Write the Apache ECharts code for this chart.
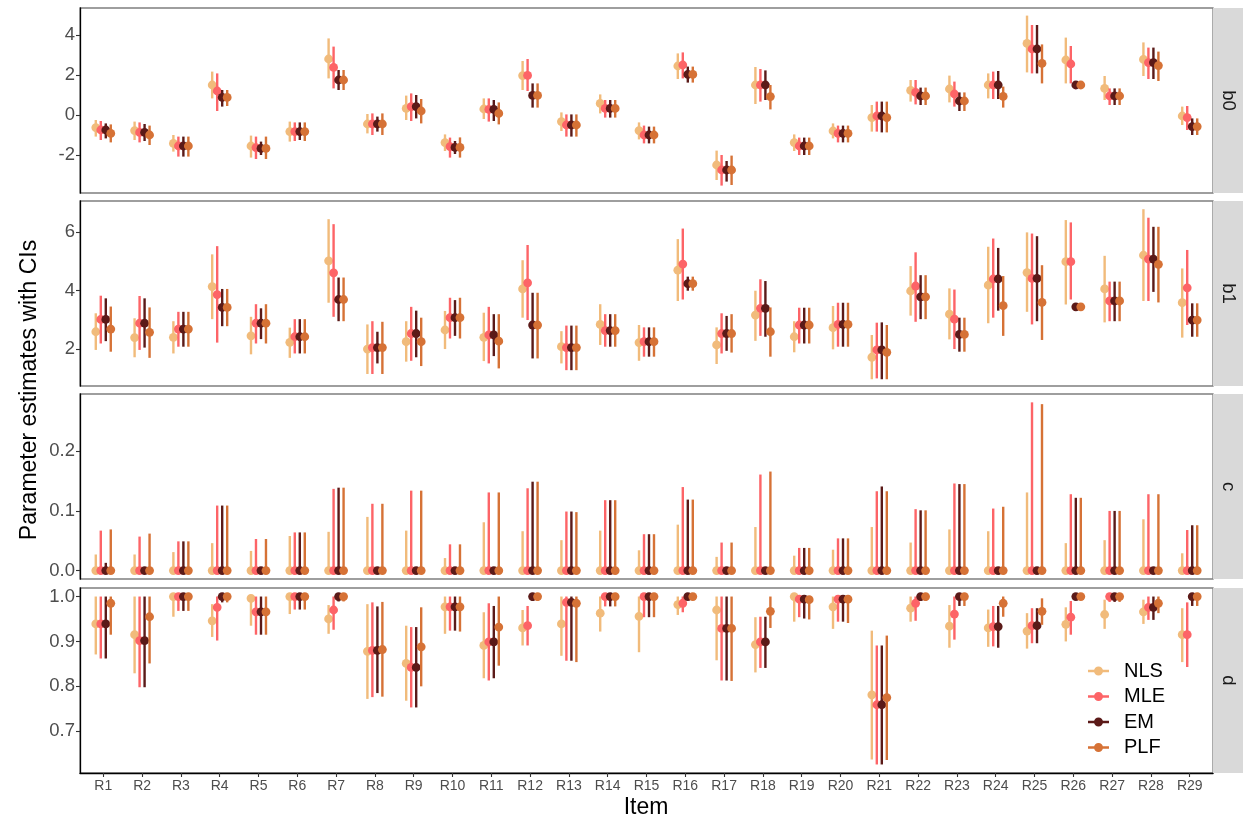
<!DOCTYPE html>
<html><head><meta charset="utf-8">
<script src="https://cdn.jsdelivr.net/npm/echarts@6/dist/echarts.min.js"></script>
<style>html,body{margin:0;padding:0;background:#fff}#c{width:1243px;height:822px}</style>
</head><body><div id="c"></div>
<script>
// ---------- categories / labels ----------
const items = Array.from({length: 29}, (_, i) => 'R' + (i + 1));
const methods = ['NLS', 'MLE', 'EM', 'PLF'];
const params = ['b0', 'b1', 'c', 'd'];
const yTicks_b0 = [-2, 0, 2, 4];
const yTicks_b1 = [2, 4, 6];
const yTicks_c = [0, 0.1, 0.2];
const yTicks_d = [0.7, 0.8, 0.9, 1.0];

// ---------- data: [estimate, lower, upper] per item ----------
const b0_NLS = [[-0.63,-1.08,-0.25],[-0.78,-1.25,-0.33],[-1.42,-1.83,-1.0],[1.5,0.83,2.17],[-1.55,-2.13,-1.03],[-0.83,-1.33,-0.33],[2.8,1.83,3.83],[-0.45,-0.92,0.05],[0.33,-0.25,0.97],[-1.38,-1.8,-0.97],[0.3,-0.2,0.83],[1.97,1.25,2.7],[-0.33,-0.8,0.13],[0.58,0.08,1.03],[-0.78,-1.22,-0.37],[2.45,1.8,3.08],[-2.5,-3.25,-1.78],[1.5,0.55,2.4],[-1.38,-1.8,-0.97],[-0.8,-1.17,-0.42],[-0.13,-0.83,0.5],[1.23,0.67,1.75],[1.3,0.63,1.97],[1.5,0.83,2.08],[3.58,2.13,4.97],[2.75,1.58,3.87],[1.33,0.75,1.95],[2.78,1.95,3.63],[-0.05,-0.5,0.42]];
const b0_MLE = [[-0.75,-1.25,-0.3],[-0.87,-1.37,-0.37],[-1.55,-2.08,-1.08],[1.2,0.2,2.08],[-1.63,-2.2,-1.08],[-0.83,-1.3,-0.37],[2.38,1.33,3.42],[-0.45,-1.0,0.08],[0.42,-0.3,1.08],[-1.58,-2.13,-1.13],[0.28,-0.33,0.83],[1.98,1.2,2.8],[-0.5,-1.08,0.03],[0.33,-0.13,0.75],[-1.0,-1.42,-0.53],[2.5,1.83,3.13],[-2.75,-3.53,-2.0],[1.5,0.67,2.3],[-1.55,-2.0,-1.13],[-0.92,-1.37,-0.53],[-0.05,-0.83,0.67],[1.13,0.53,1.75],[1.05,0.42,1.67],[1.5,0.8,2.17],[3.3,2.08,4.5],[2.55,1.58,3.45],[0.95,0.5,1.33],[2.62,1.8,3.37],[-0.13,-0.75,0.45]];
const b0_EM = [[-0.75,-1.17,-0.42],[-0.87,-1.3,-0.45],[-1.55,-2.08,-1.08],[0.88,0.42,1.25],[-1.67,-2.0,-1.33],[-0.83,-1.25,-0.37],[1.75,1.25,2.25],[-0.45,-0.83,-0.08],[0.42,-0.17,1.0],[-1.62,-1.95,-1.3],[0.28,-0.3,0.75],[0.98,0.37,1.58],[-0.5,-1.08,0.03],[0.33,-0.13,0.75],[-1.0,-1.42,-0.58],[2.03,1.62,2.42],[-2.75,-3.33,-2.3],[1.5,0.75,2.23],[-1.55,-2.0,-1.13],[-0.92,-1.37,-0.53],[-0.05,-0.87,0.67],[0.95,0.5,1.37],[0.7,0.2,1.13],[1.5,0.8,2.2],[3.3,2.08,4.5],[1.5,1.45,1.55],[0.95,0.5,1.33],[2.62,1.8,3.37],[-0.58,-1.0,-0.17]];
const b0_PLF = [[-0.92,-1.37,-0.47],[-1.0,-1.5,-0.53],[-1.55,-2.08,-1.08],[0.88,0.45,1.25],[-1.67,-2.2,-1.08],[-0.83,-1.3,-0.37],[1.75,1.25,2.25],[-0.45,-1.0,0.08],[0.2,-0.42,0.8],[-1.62,-2.13,-1.12],[0.08,-0.47,0.63],[0.98,0.37,1.58],[-0.5,-1.08,0.03],[0.33,-0.13,0.75],[-1.0,-1.42,-0.58],[2.03,1.62,2.42],[-2.75,-3.5,-2.03],[0.92,0.28,1.5],[-1.55,-2.0,-1.13],[-0.92,-1.37,-0.53],[-0.13,-0.87,0.67],[0.95,0.5,1.37],[0.7,0.2,1.13],[0.93,0.37,1.42],[2.58,1.58,3.53],[1.5,1.45,1.55],[0.95,0.5,1.33],[2.47,1.7,3.17],[-0.58,-1.0,-0.17]];

const b1_NLS = [[2.59,1.97,3.22],[2.39,1.72,3.05],[2.4,1.85,2.95],[4.13,3.02,5.23],[2.45,1.82,3.1],[2.23,1.7,2.73],[5.01,3.58,6.43],[2.0,1.15,2.84],[2.25,1.57,2.95],[2.65,2.0,3.3],[2.4,1.59,3.24],[4.05,3.07,5.03],[2.08,1.51,2.61],[2.84,2.14,3.53],[2.22,1.6,2.82],[4.69,3.64,5.75],[2.14,1.49,2.74],[3.16,2.28,3.99],[2.42,1.89,2.95],[2.73,1.99,3.47],[1.72,0.97,2.48],[3.98,3.14,4.83],[3.19,2.33,4.07],[4.18,2.88,5.49],[4.61,3.27,5.98],[4.98,3.52,6.4],[4.05,2.91,5.18],[5.2,3.64,6.77],[3.58,2.39,4.75]];
const b1_MLE = [[3.01,2.19,3.82],[2.88,1.97,3.81],[2.68,2.08,3.27],[3.86,2.22,5.51],[2.88,2.19,3.53],[2.42,1.85,3.02],[4.6,3.1,6.26],[2.05,1.15,2.95],[2.53,1.6,3.44],[3.07,2.36,3.75],[2.48,1.51,3.44],[4.26,2.99,5.55],[2.05,1.28,2.8],[2.63,2.08,3.19],[2.25,1.74,2.74],[4.9,3.69,6.11],[2.53,1.85,3.22],[3.39,2.45,4.38],[2.82,2.19,3.41],[2.84,2.08,3.58],[1.97,1.0,2.9],[4.15,2.93,5.3],[3.02,2.0,4.03],[4.39,3.07,5.77],[4.41,2.84,5.94],[4.98,3.69,6.32],[3.64,2.95,4.3],[5.07,3.64,6.48],[4.09,2.82,5.38]];
const b1_EM = [[3.01,2.27,3.73],[2.88,2.05,3.73],[2.68,2.08,3.27],[3.42,2.78,4.05],[2.88,2.34,3.39],[2.42,1.85,3.02],[3.69,2.95,4.44],[2.05,1.51,2.59],[2.53,1.72,3.31],[3.07,2.45,3.67],[2.48,1.76,3.19],[2.82,1.68,3.92],[2.05,1.28,2.8],[2.63,2.08,3.19],[2.25,1.74,2.74],[4.23,3.99,4.47],[2.53,1.94,3.13],[3.39,2.42,4.32],[2.82,2.19,3.41],[2.84,2.08,3.58],[1.97,0.97,2.91],[3.78,3.02,4.52],[2.5,1.91,3.07],[4.39,3.31,5.45],[4.41,2.95,5.85],[3.44,3.4,3.48],[3.64,2.95,4.3],[5.07,3.95,6.17],[2.99,2.42,3.56]];
const b1_PLF = [[2.68,1.91,3.45],[2.57,1.7,3.42],[2.68,2.08,3.27],[3.42,2.78,4.05],[2.88,2.19,3.53],[2.42,1.85,3.02],[3.69,2.95,4.44],[2.05,1.15,2.93],[2.25,1.42,3.07],[3.07,2.36,3.75],[2.27,1.34,3.19],[2.82,1.68,3.92],[2.05,1.28,2.8],[2.63,2.08,3.19],[2.25,1.74,2.74],[4.23,3.99,4.47],[2.53,1.88,3.19],[2.59,1.74,3.42],[2.82,2.19,3.41],[2.84,2.08,3.58],[1.89,0.97,2.82],[3.78,3.02,4.52],[2.5,1.91,3.07],[3.48,2.45,4.49],[3.59,2.31,4.86],[3.44,3.4,3.48],[3.64,2.95,4.3],[4.89,3.59,6.17],[2.99,2.42,3.56]];

const c_NLS = [[0,0,0.027],[0,0,0.027],[0,0,0.031],[0,0,0.046],[0,0,0.033],[0,0,0.058],[0,0,0.065],[0,0,0.09],[0,0,0.067],[0,0,0.021],[0,0,0.081],[0,0,0.066],[0,0,0.051],[0,0,0.067],[0,0,0.034],[0,0,0.077],[0,0,0.023],[0,0,0.073],[0,0,0.025],[0,0,0.035],[0,0,0.073],[0,0,0.047],[0,0,0.069],[0,0,0.066],[0,0,0.131],[0,0,0.046],[0,0,0.051],[0,0,0.086],[0,0,0.029]];
const c_MLE = [[0,0,0.067],[0,0,0.057],[0,0,0.049],[0,0,0.109],[0,0,0.053],[0,0,0.064],[0,0,0.137],[0,0,0.112],[0,0,0.134],[0,0,0.044],[0,0,0.131],[0,0,0.138],[0,0,0.099],[0,0,0.118],[0,0,0.061],[0,0,0.14],[0,0,0.047],[0,0,0.161],[0,0,0.038],[0,0,0.054],[0,0,0.133],[0,0,0.103],[0,0,0.146],[0,0,0.104],[0,0,0.282],[0,0,0.128],[0,0,0.1],[0,0,0.128],[0,0,0.068]];
const c_EM = [[0,0,0.013],[0,0,0.001],[0,0,0.049],[0,0,0.109],[0,0,0.001],[0,0,0.064],[0,0,0.139],[0,0,0.001],[0,0,0.001],[0,0,0.001],[0,0,0.001],[0,0,0.149],[0,0,0.099],[0,0,0.118],[0,0,0.061],[0,0,0.119],[0,0,0.001],[0,0,0.001],[0,0,0.038],[0,0,0.054],[0,0,0.141],[0,0,0.101],[0,0,0.145],[0,0,0.001],[0,0,0.001],[0,0,0.122],[0,0,0.1],[0,0,0.001],[0,0,0.076]];
const c_PLF = [[0,0,0.069],[0,0,0.062],[0,0,0.049],[0,0,0.109],[0,0,0.053],[0,0,0.064],[0,0,0.139],[0,0,0.112],[0,0,0.134],[0,0,0.044],[0,0,0.131],[0,0,0.149],[0,0,0.098],[0,0,0.118],[0,0,0.061],[0,0,0.119],[0,0,0.047],[0,0,0.166],[0,0,0.038],[0,0,0.054],[0,0,0.133],[0,0,0.101],[0,0,0.145],[0,0,0.107],[0,0,0.279],[0,0,0.122],[0,0,0.1],[0,0,0.128],[0,0,0.076]];

const d_NLS = [[0.939,0.871,1.0],[0.915,0.829,1.0],[1.0,0.955,1.0],[0.946,0.91,0.983],[0.996,0.935,1.0],[1.0,0.961,1.0],[0.95,0.917,0.981],[0.878,0.772,0.983],[0.851,0.768,0.935],[0.977,0.917,1.0],[0.891,0.818,0.965],[0.93,0.891,0.97],[0.939,0.868,1.0],[0.963,0.922,1.0],[0.956,0.876,1.0],[0.982,0.959,1.0],[0.97,0.858,1.0],[0.893,0.831,0.954],[1.0,0.944,1.0],[0.977,0.928,1.0],[0.781,0.637,0.924],[0.974,0.944,1.0],[0.934,0.886,0.981],[0.93,0.888,0.971],[0.923,0.884,0.963],[0.938,0.9,0.976],[0.96,0.928,0.993],[0.966,0.939,0.993],[0.915,0.854,0.974]];
const d_MLE = [[0.939,0.862,1.0],[0.902,0.798,1.0],[1.0,0.968,1.0],[0.976,0.902,1.0],[0.966,0.915,1.0],[1.0,0.971,1.0],[0.97,0.926,1.0],[0.88,0.776,0.987],[0.842,0.753,0.932],[0.977,0.924,1.0],[0.899,0.813,0.985],[0.935,0.891,0.979],[0.987,0.857,1.0],[1.0,0.978,1.0],[1.0,0.954,1.0],[0.985,0.965,1.0],[0.929,0.813,1.0],[0.899,0.841,0.955],[0.994,0.954,1.0],[0.994,0.944,1.0],[0.759,0.626,0.891],[0.985,0.946,1.0],[0.961,0.904,1.0],[0.933,0.889,0.979],[0.935,0.896,0.974],[0.954,0.915,0.99],[1.0,0.988,1.0],[0.976,0.948,1.0],[0.915,0.843,0.987]];
const d_EM = [[0.939,0.862,1.0],[0.902,0.798,1.0],[1.0,0.968,1.0],[1.0,0.987,1.0],[0.966,0.915,1.0],[1.0,0.971,1.0],[1.0,0.989,1.0],[0.88,0.785,0.978],[0.842,0.753,0.932],[0.977,0.924,1.0],[0.899,0.818,0.979],[1.0,0.99,1.0],[0.987,0.857,1.0],[1.0,0.978,1.0],[1.0,0.954,1.0],[1.0,0.993,1.0],[0.929,0.813,1.0],[0.899,0.841,0.955],[0.994,0.951,1.0],[0.994,0.944,1.0],[0.759,0.626,0.891],[1.0,0.99,1.0],[1.0,0.979,1.0],[0.933,0.886,0.979],[0.935,0.896,0.974],[1.0,0.998,1.0],[1.0,0.988,1.0],[0.976,0.948,1.0],[1.0,0.979,1.0]];
const d_PLF = [[0.985,0.915,1.0],[0.955,0.851,1.0],[1.0,0.968,1.0],[1.0,0.987,1.0],[0.966,0.915,1.0],[1.0,0.971,1.0],[1.0,0.989,1.0],[0.882,0.777,0.988],[0.888,0.8,0.976],[0.977,0.922,1.0],[0.932,0.846,1.0],[1.0,0.99,1.0],[0.985,0.854,1.0],[1.0,0.978,1.0],[1.0,0.954,1.0],[1.0,0.993,1.0],[0.929,0.812,1.0],[0.967,0.93,1.0],[0.993,0.949,1.0],[0.994,0.941,1.0],[0.775,0.636,0.913],[1.0,0.99,1.0],[1.0,0.979,1.0],[0.985,0.955,1.0],[0.967,0.937,0.996],[1.0,0.998,1.0],[1.0,0.988,1.0],[0.985,0.963,1.0],[1.0,0.979,1.0]];

// ---------- styling / layout ----------
const colors = ['#F1BB7B', '#FD6467', '#5B1A18', '#D67236'];
const dodge = [-0.193, -0.0645, 0.0645, 0.193];
const FONT = '"Liberation Sans", Arial, Helvetica, sans-serif';
const panelData = [
  [b0_NLS, b0_MLE, b0_EM, b0_PLF],
  [b1_NLS, b1_MLE, b1_EM, b1_PLF],
  [c_NLS, c_MLE, c_EM, c_PLF],
  [d_NLS, d_MLE, d_EM, d_PLF]
];
const yTicks = [yTicks_b0, yTicks_b1, yTicks_c, yTicks_d];
const yMin = [-3.9, 0.74, -0.0141, 0.607];
const yMax = [5.35, 7.05, 0.296, 1.019];
const yFmt = [v => String(v), v => String(v), v => v.toFixed(1), v => v.toFixed(1)];
const LEFT = 80, WIDTH = 1133, HEIGHT = 185;
const tops = [8, 201, 394, 588];

function makeRender(k) {
  return function (params, api) {
    const x = api.value(0);
    const p = api.coord([x, api.value(1)]);
    const lo = api.coord([x, api.value(2)]);
    const hi = api.coord([x, api.value(3)]);
    const bw = api.size([1, 0])[0];
    const cx = p[0] + dodge[k] * bw;
    return {
      type: 'group',
      children: [
        {type: 'line', shape: {x1: cx, y1: lo[1], x2: cx, y2: hi[1]}, style: {stroke: colors[k], lineWidth: 2.4}},
        {type: 'circle', shape: {cx: cx, cy: p[1], r: 4.4}, style: {fill: colors[k]}}
      ]
    };
  };
}

const grids = [], xAxes = [], yAxes = [], series = [], graphics = [];
const xTickVals = items.map((_, i) => i + 1);
for (let g = 0; g < 4; g++) {
  const last = g === 3;
  grids.push({left: LEFT, top: tops[g], width: WIDTH, height: HEIGHT, show: true,
    borderColor: '#7f7f7f', borderWidth: 1.3, backgroundColor: '#fff'});
  xAxes.push({type: 'value', gridIndex: g, min: 0.4, max: 29.6, show: last,
    axisLine: {show: true, onZero: false, lineStyle: {color: '#000', width: 1.3}},
    axisTick: {show: true, length: 4, customValues: xTickVals, lineStyle: {color: '#333', width: 1.1}},
    axisLabel: {show: true, customValues: xTickVals, formatter: v => items[Math.round(v) - 1],
      fontSize: 14, color: '#4d4d4d', fontFamily: FONT, margin: 6},
    splitLine: {show: false}});
  yAxes.push({type: 'value', gridIndex: g, min: yMin[g], max: yMax[g],
    axisLine: {show: true, onZero: false, lineStyle: {color: '#000', width: 1.3}},
    axisTick: {show: true, length: 4, customValues: yTicks[g], lineStyle: {color: '#333', width: 1.1}},
    axisLabel: {show: true, customValues: yTicks[g], formatter: yFmt[g],
      fontSize: 18.5, color: '#4d4d4d', fontFamily: FONT, margin: 5},
    splitLine: {show: false}});
  for (let k = 0; k < 4; k++) {
    series.push({
      type: 'custom', name: methods[k], xAxisIndex: g, yAxisIndex: g, clip: false,
      itemStyle: {color: colors[k]}, color: colors[k],
      renderItem: makeRender(k),
      encode: {x: 0, y: [1, 2, 3]},
      data: panelData[g][k].map((t, i) => [i + 1, t[0], t[1], t[2]])
    });
  }
  // facet strip
  graphics.push({type: 'rect', shape: {x: LEFT + WIDTH, y: tops[g], width: 1243 - LEFT - WIDTH, height: HEIGHT},
    style: {fill: '#d9d9d9'}, z: 1});
  graphics.push({type: 'text', x: LEFT + WIDTH + 15, y: tops[g] + HEIGHT / 2, rotation: -Math.PI / 2,
    style: {text: params[g], fontSize: 18.5, fill: '#1a1a1a', fontFamily: FONT, align: 'center', verticalAlign: 'middle'}, z: 2});
}
graphics.push({type: 'text', x: 30, y: 390, rotation: Math.PI / 2,
  style: {text: 'Parameter estimates with CIs', fontSize: 23, fill: '#000', fontFamily: FONT, align: 'center', verticalAlign: 'middle'}});
graphics.push({type: 'text', x: 646, y: 808,
  style: {text: 'Item', fontSize: 23, fill: '#000', fontFamily: FONT, align: 'center', verticalAlign: 'middle'}});

const chart = echarts.init(document.getElementById('c'), null, {renderer: 'canvas'});
chart.setOption({
  animation: false,
  backgroundColor: '#fff',
  color: colors,
  grid: grids,
  xAxis: xAxes,
  yAxis: yAxes,
  series: series,
  graphic: graphics,
  legend: {
    data: methods, orient: 'vertical', left: 1083, top: 656,
    itemWidth: 21, itemHeight: 9, itemGap: 5.5,
    icon: 'path://M0,3.8L21,3.8L21,6.2L0,6.2Z M6,5A4.5,4.5,0,1,1,15,5A4.5,4.5,0,1,1,6,5Z',
    textStyle: {fontSize: 20, lineHeight: 20, color: '#000', fontFamily: FONT, padding: [0, 0, 0, 10]},
    selectedMode: false
  }
});
</script>
</body></html>
